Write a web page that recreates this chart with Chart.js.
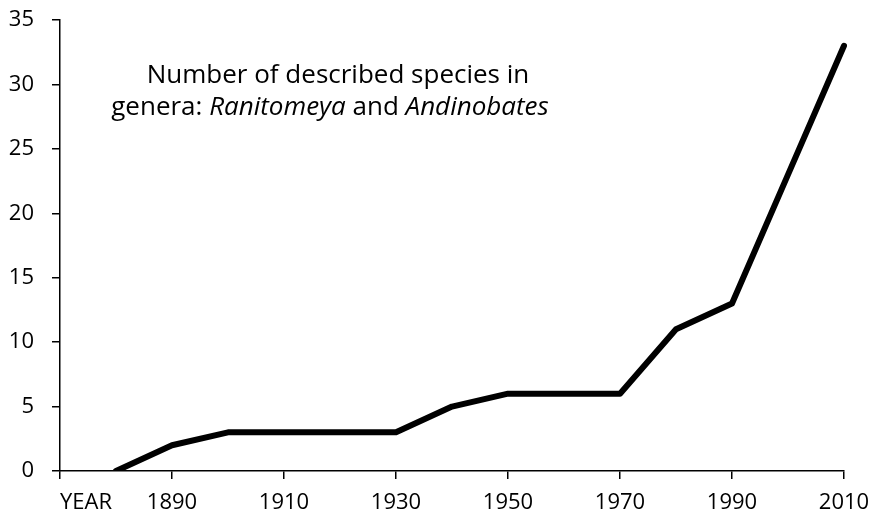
<!DOCTYPE html>
<html>
<head>
<meta charset="utf-8">
<script src="https://cdn.jsdelivr.net/npm/chart.js@4/dist/chart.umd.min.js"></script>
<style>
  html, body { margin: 0; padding: 0; background: #fff; }
  #wrap { width: 872px; height: 515px; }
</style>
</head>
<body>
<div id="wrap"><canvas id="speciesChart" width="872" height="515"></canvas></div>
<script>
const years = ["YEAR", "1880", "1890", "1900", "1910", "1920", "1930", "1940", "1950", "1960", "1970", "1980", "1990", "2000", "2010"];
const species = [null, 0, 2, 3, 3, 3, 3, 5, 6, 6, 6, 11, 13, 23, 33];
const yTicks = [0, 5, 10, 15, 20, 25, 30, 35];
const titleLine1 = "Number of described species in";
const titleLine2 = [["genera: ", false], ["Ranitomeya", true], [" and ", false], ["Andinobates", true]];

const FONT = "'Open Sans', sans-serif";
const TITLE_SIZE = 26;
const TICK_SIZE = 22;

// title text with italic genus names, plus the offset "YEAR" label
const extras = {
    id: "extras",
    afterDraw(chart) {
        const c = chart.ctx;
        c.save();
        c.fillStyle = "#000";
        c.textBaseline = "alphabetic";
        c.font = TITLE_SIZE + "px " + FONT;
        c.textAlign = "center";
        c.fillText(titleLine1, 338, 83);

        let total = 0;
        titleLine2.forEach(([t, it]) => {
            c.font = (it ? "italic " : "") + TITLE_SIZE + "px " + FONT;
            total += c.measureText(t).width;
        });
        let x = 330 - total / 2;
        c.textAlign = "left";
        titleLine2.forEach(([t, it]) => {
            c.font = (it ? "italic " : "") + TITLE_SIZE + "px " + FONT;
            c.fillText(t, x, 115);
            x += c.measureText(t).width;
        });

        const xs = chart.scales.x;
        c.font = TICK_SIZE + "px " + FONT;
        c.textAlign = "center";
        c.textBaseline = "middle";
        c.fillText(years[0], xs.getPixelForTick(0) + 26, 503);
        c.restore();
    }
};

new Chart(document.getElementById("speciesChart"), {
    type: "line",
    data: {
        labels: years,
        datasets: [{
            data: species,
            borderColor: "#000",
            borderWidth: 6,
            borderCapStyle: "round",
            borderJoinStyle: "round",
            pointRadius: 0,
            tension: 0,
            fill: false
        }]
    },
    options: {
        responsive: false,
        animation: false,
        layout: { padding: { left: 0, right: 28, top: 20, bottom: 0 } },
        plugins: { legend: { display: false }, tooltip: { enabled: false }, title: { display: false } },
        scales: {
            x: {
                type: "category",
                offset: false,
                afterFit: s => { s.height = 44; s.paddingLeft = 0; s.paddingRight = 0; },
                border: { display: true, color: "#000", width: 1.5 },
                grid: {
                    drawOnChartArea: false,
                    drawTicks: true,
                    tickLength: 8,
                    lineWidth: 1.5,
                    color: ctx => (ctx.index % 2 === 0 ? "#000" : "rgba(0,0,0,0)")
                },
                ticks: {
                    autoSkip: false,
                    maxRotation: 0,
                    padding: 11,
                    color: "#000",
                    font: { family: FONT, size: TICK_SIZE },
                    callback: (v, i) => (i === 0 || i % 2 === 1 ? "" : years[i])
                }
            },
            y: {
                min: 0,
                max: 35,
                afterFit: s => { s.width = 60; s.paddingTop = 0; s.paddingBottom = 0; },
                afterBuildTicks: s => { s.ticks = yTicks.map(v => ({ value: v })); },
                border: { display: true, color: "#000", width: 1.5 },
                grid: {
                    drawOnChartArea: false,
                    drawTicks: true,
                    tickLength: 8,
                    lineWidth: 1.5,
                    color: "#000"
                },
                ticks: {
                    padding: 18,
                    color: "#000",
                    font: { family: FONT, size: TICK_SIZE }
                }
            }
        }
    },
    plugins: [extras]
});
</script>
</body>
</html>
